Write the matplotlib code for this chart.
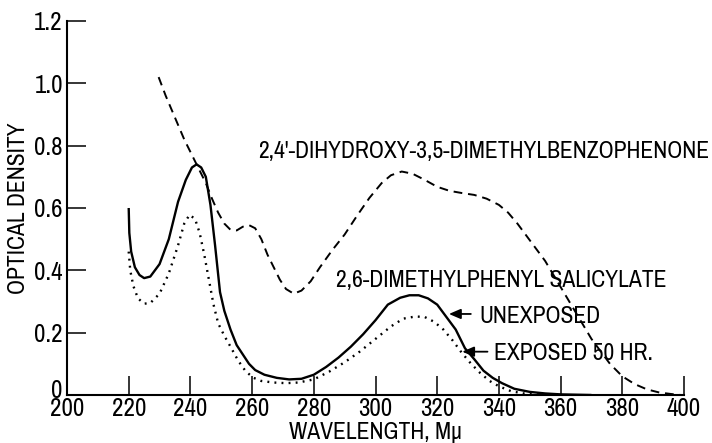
import matplotlib
matplotlib.use("Agg")
import matplotlib.pyplot as plt
from matplotlib import font_manager
from matplotlib.transforms import ScaledTranslation

# ---------------- data ----------------
unexp_x = [220, 220.2, 220.8, 222, 223.5, 225, 227, 230, 233, 236, 238.5, 240.5, 242,
           243.5, 245, 246.5, 248, 249.6, 251, 253, 255, 257, 259, 261, 264, 268, 272,
           276, 280, 284, 288, 292, 296, 300, 304, 308, 311, 314, 317, 320, 323, 326,
           329, 332, 335, 338, 341, 345, 350, 355, 360, 370]
unexp_y = [0.60, 0.52, 0.46, 0.41, 0.385, 0.375, 0.38, 0.42, 0.50, 0.62, 0.69, 0.73, 0.74,
           0.73, 0.70, 0.61, 0.48, 0.33, 0.27, 0.21, 0.16, 0.13, 0.10, 0.08, 0.065, 0.055, 0.05,
           0.052, 0.065, 0.09, 0.12, 0.155, 0.195, 0.24, 0.29, 0.312, 0.32, 0.32, 0.31, 0.29, 0.25, 0.21,
           0.15, 0.115, 0.078, 0.055, 0.038, 0.02, 0.01, 0.005, 0.002, 0.0]

exp_x = [220, 220.5, 221.5, 223, 225, 227, 230, 233, 236, 238, 239.7, 241.5, 243, 244.5,
         246, 247.5, 249, 251, 253, 255.5, 258, 260.5, 263, 267, 271, 275, 280, 285, 290,
         295, 300, 305, 309, 313, 316, 319, 322, 325, 328, 331, 334, 337, 340, 344, 348, 355]
exp_y = [0.46, 0.40, 0.35, 0.31, 0.293, 0.295, 0.325, 0.39, 0.48, 0.55, 0.578, 0.565, 0.52, 0.45,
         0.37, 0.29, 0.23, 0.19, 0.155, 0.11, 0.075, 0.055, 0.045, 0.04, 0.038, 0.04, 0.05, 0.075, 0.105,
         0.14, 0.18, 0.22, 0.245, 0.252, 0.25, 0.235, 0.21, 0.175, 0.135, 0.10, 0.07, 0.045, 0.028, 0.012, 0.005, 0.0]

benzo_x = [229.7, 232, 235, 238, 241, 243, 245, 247, 249, 251, 253, 255, 257, 259, 261, 263,
           265, 267, 269, 271, 273.5, 276, 279, 282, 286, 290, 294, 298, 302, 305, 308.5, 312,
           316, 320, 324, 328, 332, 336, 340, 343, 346, 349, 352, 355, 358, 361, 364, 367, 370,
           373, 376, 380, 384, 388, 392, 396, 399]
benzo_y = [1.02, 0.96, 0.89, 0.82, 0.76, 0.72, 0.68, 0.63, 0.585, 0.55, 0.53, 0.528, 0.54, 0.545,
           0.535, 0.5, 0.45, 0.41, 0.37, 0.34, 0.325, 0.335, 0.365, 0.41, 0.465, 0.515, 0.575, 0.632,
           0.68, 0.705, 0.717, 0.71, 0.69, 0.668, 0.655, 0.648, 0.642, 0.63, 0.61, 0.585, 0.55, 0.51,
           0.47, 0.43, 0.38, 0.33, 0.28, 0.23, 0.18, 0.14, 0.10, 0.06, 0.035, 0.018, 0.008, 0.003, 0.0]

x_ticks = [200, 220, 240, 260, 280, 300, 320, 340, 360, 380, 400]
y_ticks = [0, 0.2, 0.4, 0.6, 0.8, 1.0, 1.2]
y_tick_labels = ["0", "0.2", "0.4", "0.6", "0.8", "1.0", "1.2"]

label_benzo = "2,4'-DIHYDROXY-3,5-DIMETHYLBENZOPHENONE"
label_salic = "2,6-DIMETHYLPHENYL SALICYLATE"
label_unexp = "UNEXPOSED"
label_exp = "EXPOSED 50 HR."
x_label = "WAVELENGTH, Mμ"
y_label = "OPTICAL DENSITY"

# ---------------- style ----------------
names = {f.name for f in font_manager.fontManager.ttflist}
fam = "Liberation Sans"
for cand in ["Archivo Narrow", "Liberation Sans Narrow", "Roboto Condensed", "PT Sans Narrow"]:
    if cand in names:
        fam = cand
        break
plt.rcParams["font.family"] = [fam, "DejaVu Sans"]
FS = 17
TFS = 18

fig = plt.figure(figsize=(7.12, 4.43), dpi=100)
ax = fig.add_axes([67 / 712, 1 - 395 / 443, (684 - 67) / 712, (395 - 21) / 443])

ax.plot(benzo_x, benzo_y, color="black", lw=1.4, linestyle=(0, (4.5, 3.0)))
ax.plot(unexp_x, unexp_y, color="black", lw=1.7, solid_capstyle="butt")
ax.plot(exp_x, exp_y, color="black", lw=1.7, linestyle=(0, (0.8, 2.2)))

ax.set_xlim(200, 400)
ax.set_ylim(0, 1.2)
ax.set_xticks(x_ticks)
ax.set_xticklabels([str(v) for v in x_ticks])
ax.set_yticks(y_ticks)
ax.set_yticklabels(y_tick_labels)

for s in ("top", "right"):
    ax.spines[s].set_visible(False)
for s in ("left", "bottom"):
    ax.spines[s].set_linewidth(1.5)

ax.tick_params(direction="in", length=14, width=1.1, labelsize=TFS, pad=3)
ax.tick_params(axis="x", pad=1.5)

# lift the "0" label slightly, as in the reference
zero_lbl = ax.get_yticklabels()[0]
zero_lbl.set_transform(zero_lbl.get_transform() + ScaledTranslation(0, 5 / 72, fig.dpi_scale_trans))

ax.set_xlabel(x_label, fontsize=FS)
ax.set_ylabel(y_label, fontsize=FS)
ax.xaxis.set_label_coords(0.5, -0.071)
ax.yaxis.set_label_coords(-0.062, 0.5)

ax.text(261.9, 0.761, label_benzo, fontsize=FS, ha="left", va="baseline")
ax.text(287.2, 0.348, label_salic, fontsize=FS, ha="left", va="baseline")
ax.text(333.7, 0.232, label_unexp, fontsize=FS, ha="left", va="baseline")
ax.text(338.3, 0.112, label_exp, fontsize=FS, ha="left", va="baseline")

arrow = dict(arrowstyle="-|>,head_length=0.35,head_width=0.15", color="black",
             lw=1.3, mutation_scale=20, shrinkA=0, shrinkB=0)
ax.annotate("", xy=(323.8, 0.26), xytext=(330.9, 0.26), arrowprops=arrow)
ax.annotate("", xy=(328.1, 0.139), xytext=(336.3, 0.139), arrowprops=arrow)

fig.savefig("out.png", dpi=100)
